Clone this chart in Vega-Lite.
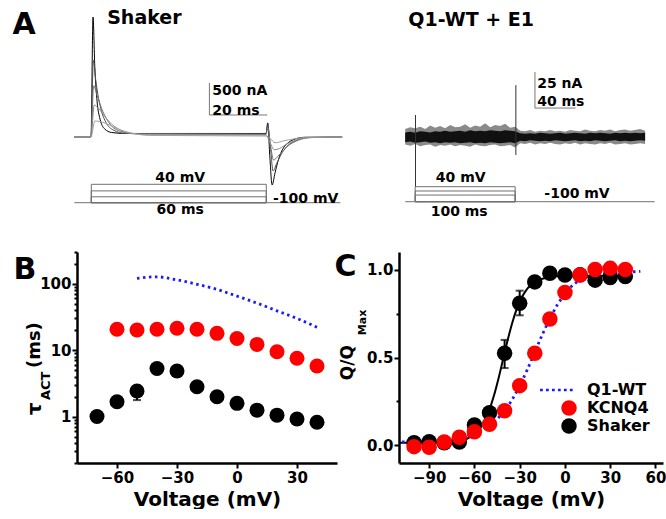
{
"$schema": "https://vega.github.io/schema/vega-lite/v6.json",
"autosize": {"type": "pad"},
"padding": {"left": 12, "top": 0, "right": 0, "bottom": 0},
"background": "white",
"config": {
  "view": {"stroke": null},
  "font": "DejaVu Sans",
  "text": {"font": "DejaVu Sans", "fontWeight": "bold", "color": "#000"},
  "axis": {"labelFont": "DejaVu Sans", "labelFontWeight": "bold", "labelFontSize": 15, "labelColor": "#000",
           "titleFont": "DejaVu Sans", "titleFontWeight": "bold", "titleFontSize": 20, "titleColor": "#000",
           "domainColor": "#000", "domainWidth": 2.5, "tickColor": "#000", "tickWidth": 2, "grid": false, "labelFlush": false}
},
"datasets": {
  "shakerTraces": [
    {"trace":"e","t":-5.8,"nA":0},{"trace":"e","t":-0.1,"nA":0},{"trace":"e","t":0.6,"nA":1875},{"trace":"e","t":1.2,"nA":1100},{"trace":"e","t":2,"nA":550},{"trace":"e","t":3,"nA":280},{"trace":"e","t":4.5,"nA":130},{"trace":"e","t":7,"nA":70},{"trace":"e","t":12,"nA":55},{"trace":"e","t":59.9,"nA":55},{"trace":"e","t":60.5,"nA":220},{"trace":"e","t":61.2,"nA":-300},{"trace":"e","t":62,"nA":-750},{"trace":"e","t":63,"nA":-560},{"trace":"e","t":64,"nA":-380},{"trace":"e","t":65.5,"nA":-200},{"trace":"e","t":67.5,"nA":-90},{"trace":"e","t":70,"nA":-30},{"trace":"e","t":73,"nA":-5},{"trace":"e","t":86,"nA":0},
    {"trace":"d","t":-5.8,"nA":0},{"trace":"d","t":-0.1,"nA":0},{"trace":"d","t":0.7,"nA":1200},{"trace":"d","t":1.5,"nA":900},{"trace":"d","t":2.5,"nA":600},{"trace":"d","t":3.5,"nA":400},{"trace":"d","t":5,"nA":230},{"trace":"d","t":7.5,"nA":110},{"trace":"d","t":12,"nA":55},{"trace":"d","t":59.9,"nA":50},{"trace":"d","t":60.5,"nA":180},{"trace":"d","t":61.5,"nA":-200},{"trace":"d","t":62.3,"nA":-530},{"trace":"d","t":63.5,"nA":-420},{"trace":"d","t":65,"nA":-280},{"trace":"d","t":67,"nA":-150},{"trace":"d","t":70,"nA":-60},{"trace":"d","t":74,"nA":-10},{"trace":"d","t":86,"nA":0},
    {"trace":"c","t":-5.8,"nA":0},{"trace":"c","t":-0.1,"nA":0},{"trace":"c","t":0.8,"nA":800},{"trace":"c","t":2,"nA":650},{"trace":"c","t":3.5,"nA":450},{"trace":"c","t":5,"nA":300},{"trace":"c","t":7,"nA":170},{"trace":"c","t":10,"nA":90},{"trace":"c","t":15,"nA":50},{"trace":"c","t":59.9,"nA":40},{"trace":"c","t":60.5,"nA":150},{"trace":"c","t":61.5,"nA":-150},{"trace":"c","t":62.5,"nA":-360},{"trace":"c","t":64,"nA":-300},{"trace":"c","t":66,"nA":-200},{"trace":"c","t":68,"nA":-120},{"trace":"c","t":71,"nA":-50},{"trace":"c","t":75,"nA":-10},{"trace":"c","t":86,"nA":0},
    {"trace":"b","t":-5.8,"nA":0},{"trace":"b","t":-0.1,"nA":0},{"trace":"b","t":1,"nA":500},{"trace":"b","t":3,"nA":420},{"trace":"b","t":5,"nA":300},{"trace":"b","t":7,"nA":200},{"trace":"b","t":10,"nA":110},{"trace":"b","t":14,"nA":55},{"trace":"b","t":20,"nA":35},{"trace":"b","t":59.9,"nA":30},{"trace":"b","t":61,"nA":-60},{"trace":"b","t":62.8,"nA":-200},{"trace":"b","t":64.5,"nA":-180},{"trace":"b","t":67,"nA":-110},{"trace":"b","t":70,"nA":-50},{"trace":"b","t":74,"nA":-10},{"trace":"b","t":86,"nA":0},
    {"trace":"a","t":-5.8,"nA":0},{"trace":"a","t":-0.1,"nA":0},{"trace":"a","t":1.2,"nA":250},{"trace":"a","t":4,"nA":230},{"trace":"a","t":7,"nA":170},{"trace":"a","t":10,"nA":110},{"trace":"a","t":14,"nA":60},{"trace":"a","t":20,"nA":25},{"trace":"a","t":59.9,"nA":15},{"trace":"a","t":61.5,"nA":-30},{"trace":"a","t":63,"nA":-90},{"trace":"a","t":66,"nA":-60},{"trace":"a","t":70,"nA":-25},{"trace":"a","t":75,"nA":0},{"trace":"a","t":86,"nA":0}
  ],
  "shakerProt": [{"t0":0,"t1":60,"v0":-100,"v1":40},{"t0":0,"t1":60,"v0":-100,"v1":-10},{"t0":0,"t1":60,"v0":-100,"v1":-55}],
  "q1Prot": [{"t0":0,"t1":100,"v0":-100,"v1":40},{"t0":0,"t1":100,"v0":-100,"v1":0},{"t0":0,"t1":100,"v0":-100,"v1":-38}],
  "q1Noise": [
    {"t":-10,"olo":-5.2,"ohi":5.6,"ilo":-3.6,"ihi":3.2},{"t":-5,"olo":-6,"ohi":6.8,"ilo":-3.2,"ihi":3.6},{"t":0,"olo":-4.8,"ohi":6,"ilo":-4,"ihi":2.9},{"t":5,"olo":-6.4,"ohi":7.2,"ilo":-3.6,"ihi":4},{"t":10,"olo":-5.6,"ohi":5.6,"ilo":-3.2,"ihi":3.6},{"t":15,"olo":-5.2,"ohi":8,"ilo":-4,"ihi":3.2},{"t":20,"olo":-6.8,"ohi":6.4,"ilo":-3.6,"ihi":4},{"t":25,"olo":-5.6,"ohi":7.6,"ilo":-4.3,"ihi":3.6},{"t":30,"olo":-6,"ohi":6,"ilo":-3.6,"ihi":4.3},{"t":35,"olo":-5.2,"ohi":8.4,"ilo":-4,"ihi":3.6},{"t":40,"olo":-6.4,"ohi":6.8,"ilo":-3.6,"ihi":4},{"t":45,"olo":-5.6,"ohi":7.2,"ilo":-4.3,"ihi":4.3},{"t":50,"olo":-6,"ohi":8.8,"ilo":-4,"ihi":3.6},{"t":55,"olo":-6.8,"ohi":6.4,"ilo":-3.6,"ihi":4.7},{"t":60,"olo":-5.2,"ohi":8,"ilo":-4.3,"ihi":4},{"t":65,"olo":-6,"ohi":7.2,"ilo":-4,"ihi":4.3},{"t":70,"olo":-6.4,"ohi":9.6,"ilo":-4.3,"ihi":4},{"t":75,"olo":-5.6,"ohi":6.8,"ilo":-3.6,"ihi":4.7},{"t":80,"olo":-5.2,"ohi":8.4,"ilo":-4,"ihi":4.3},{"t":85,"olo":-6.4,"ohi":7.6,"ilo":-4.3,"ihi":4},{"t":90,"olo":-6,"ohi":9.2,"ilo":-4,"ihi":4.7},{"t":95,"olo":-5.6,"ohi":6.4,"ilo":-3.6,"ihi":4.3},{"t":100,"olo":-7.2,"ohi":7.2,"ilo":-4.3,"ihi":4},
    {"t":105,"olo":-4.4,"ohi":4.4,"ilo":-2.6,"ihi":2.6},{"t":110,"olo":-4.8,"ohi":4,"ilo":-3,"ihi":2.3},{"t":115,"olo":-4,"ohi":4.8,"ilo":-2.3,"ihi":2.6},{"t":120,"olo":-5.2,"ohi":3.6,"ilo":-2.6,"ihi":2.3},{"t":125,"olo":-4.4,"ohi":4.4,"ilo":-3,"ihi":3},{"t":130,"olo":-4.8,"ohi":4,"ilo":-2.6,"ihi":2.6},{"t":135,"olo":-4,"ohi":4.8,"ilo":-3,"ihi":2.3},{"t":140,"olo":-4.8,"ohi":4,"ilo":-2.3,"ihi":2.6},{"t":145,"olo":-5.2,"ohi":4.4,"ilo":-2.6,"ihi":3},{"t":150,"olo":-4.4,"ohi":3.6,"ilo":-3,"ihi":2.3},{"t":155,"olo":-4.8,"ohi":4.8,"ilo":-2.6,"ihi":2.6},{"t":160,"olo":-4,"ohi":4.4,"ilo":-2.3,"ihi":3},{"t":165,"olo":-5.2,"ohi":4,"ilo":-3,"ihi":2.6},{"t":170,"olo":-4.4,"ohi":5.2,"ilo":-2.6,"ihi":2.3},{"t":175,"olo":-4.8,"ohi":4.4,"ilo":-3,"ihi":3},{"t":180,"olo":-5.2,"ohi":4,"ilo":-2.3,"ihi":2.6},{"t":185,"olo":-4.4,"ohi":4.8,"ilo":-2.6,"ihi":3},{"t":190,"olo":-4.8,"ohi":4.4,"ilo":-3,"ihi":2.6},{"t":195,"olo":-4,"ohi":5.2,"ilo":-2.6,"ihi":2.3},{"t":200,"olo":-5.2,"ohi":4,"ilo":-2.3,"ihi":3},{"t":205,"olo":-4.8,"ohi":4.8,"ilo":-3,"ihi":2.6},{"t":210,"olo":-4.4,"ohi":5.2,"ilo":-2.6,"ihi":3},{"t":215,"olo":-5.2,"ohi":4.4,"ilo":-3,"ihi":2.6},{"t":220,"olo":-4.8,"ohi":4.8,"ilo":-2.6,"ihi":3},{"t":225,"olo":-4.4,"ohi":5.6,"ilo":-2.3,"ihi":2.6},{"t":230,"olo":-4.8,"ohi":4.4,"ilo":-2.6,"ihi":3}
  ],
  "q1Spikes": [{"t":0.3,"lo":-34.7,"hi":15.3},{"t":100.7,"lo":-12.5,"hi":36}],
  "tauPts": [
    {"series":"Shaker","V":-70,"tau":1.0},{"series":"Shaker","V":-60,"tau":1.67},{"series":"Shaker","V":-50,"tau":2.42},{"series":"Shaker","V":-40,"tau":5.3},{"series":"Shaker","V":-30,"tau":4.84},{"series":"Shaker","V":-20,"tau":2.81},{"series":"Shaker","V":-10,"tau":1.99},{"series":"Shaker","V":0,"tau":1.58},{"series":"Shaker","V":10,"tau":1.25},{"series":"Shaker","V":20,"tau":1.05},{"series":"Shaker","V":30,"tau":0.92},{"series":"Shaker","V":40,"tau":0.82},
    {"series":"KCNQ4","V":-60,"tau":20.6},{"series":"KCNQ4","V":-50,"tau":20.1},{"series":"KCNQ4","V":-40,"tau":20.6},{"series":"KCNQ4","V":-30,"tau":21.3},{"series":"KCNQ4","V":-20,"tau":20.6},{"series":"KCNQ4","V":-10,"tau":17.9},{"series":"KCNQ4","V":0,"tau":15.0},{"series":"KCNQ4","V":10,"tau":12.2},{"series":"KCNQ4","V":20,"tau":9.46},{"series":"KCNQ4","V":30,"tau":7.53},{"series":"KCNQ4","V":40,"tau":5.76}
  ],
  "tauQ1": [{"V":-50,"tau":120},{"V":-40,"tau":127},{"V":-30,"tau":114},{"V":-20,"tau":98},{"V":-10,"tau":82},{"V":0,"tau":65},{"V":10,"tau":51},{"V":20,"tau":39},{"V":30,"tau":30},{"V":40,"tau":22}],
  "tauErr": [{"V":-50,"lo":1.77,"hi":2.9}],
  "qvPts": [
    {"series":"Shaker","V":-100,"q":0.015},{"series":"Shaker","V":-90,"q":0.021},{"series":"Shaker","V":-80,"q":0.015},{"series":"Shaker","V":-70,"q":0.02},{"series":"Shaker","V":-60,"q":0.116},{"series":"Shaker","V":-50,"q":0.186},{"series":"Shaker","V":-40,"q":0.524},{"series":"Shaker","V":-30,"q":0.808},{"series":"Shaker","V":-20,"q":0.93},{"series":"Shaker","V":-10,"q":0.979},{"series":"Shaker","V":0,"q":0.969},{"series":"Shaker","V":10,"q":0.97},{"series":"Shaker","V":20,"q":0.94},{"series":"Shaker","V":30,"q":0.955},{"series":"Shaker","V":40,"q":0.96},
    {"series":"KCNQ4","V":-100,"q":-0.007},{"series":"KCNQ4","V":-90,"q":-0.01},{"series":"KCNQ4","V":-80,"q":0.02},{"series":"KCNQ4","V":-70,"q":0.046},{"series":"KCNQ4","V":-60,"q":0.078},{"series":"KCNQ4","V":-50,"q":0.12},{"series":"KCNQ4","V":-40,"q":0.197},{"series":"KCNQ4","V":-30,"q":0.34},{"series":"KCNQ4","V":-20,"q":0.524},{"series":"KCNQ4","V":-10,"q":0.719},{"series":"KCNQ4","V":0,"q":0.87},{"series":"KCNQ4","V":10,"q":0.969},{"series":"KCNQ4","V":20,"q":1.0},{"series":"KCNQ4","V":30,"q":1.007},{"series":"KCNQ4","V":40,"q":1.0}
  ],
  "qvFit": [{"V":-110,"q":0.015},{"V":-100,"q":0.015},{"V":-90,"q":0.016},{"V":-80,"q":0.017},{"V":-70,"q":0.026},{"V":-65,"q":0.038},{"V":-60,"q":0.064},{"V":-55,"q":0.114},{"V":-50,"q":0.205},{"V":-47,"q":0.285},{"V":-44,"q":0.382},{"V":-41,"q":0.49},{"V":-38,"q":0.598},{"V":-35,"q":0.695},{"V":-32,"q":0.775},{"V":-29,"q":0.835},{"V":-26,"q":0.879},{"V":-23,"q":0.909},{"V":-20,"q":0.929},{"V":-15,"q":0.948},{"V":-10,"q":0.957},{"V":0,"q":0.963},{"V":20,"q":0.965},{"V":40,"q":0.965}],
  "qvQ1": [{"V":-108,"q":0.02},{"V":-90,"q":0.02},{"V":-80,"q":0.025},{"V":-70,"q":0.04},{"V":-60,"q":0.07},{"V":-55,"q":0.09},{"V":-50,"q":0.12},{"V":-45,"q":0.15},{"V":-40,"q":0.2},{"V":-35,"q":0.26},{"V":-30,"q":0.34},{"V":-25,"q":0.43},{"V":-20,"q":0.53},{"V":-15,"q":0.63},{"V":-10,"q":0.72},{"V":-5,"q":0.8},{"V":0,"q":0.86},{"V":5,"q":0.91},{"V":10,"q":0.94},{"V":15,"q":0.96},{"V":20,"q":0.97},{"V":30,"q":0.98},{"V":40,"q":0.985},{"V":50,"q":0.99}],
  "qvErr": [{"V":-40,"lo":0.44,"hi":0.6},{"V":-30,"lo":0.74,"hi":0.88},{"V":-20,"lo":0.91,"hi":0.95},{"V":20,"lo":0.92,"hi":0.97}]
},
"columns": 2,
"bounds": "flush",
"spacing": {"row": 32, "column": 62},
"resolve": {"scale": {"color": "independent", "shape": "independent", "strokeWidth": "independent"}, "legend": {"color": "independent", "shape": "independent"}},
"concat": [
  {
    "width": 260, "height": 220,
    "layer": [
      {"layer": [
        {"data": {"name": "shakerTraces"},
         "mark": {"type": "line", "interpolate": "monotone"},
         "encoding": {
           "x": {"field": "t", "type": "quantitative", "scale": {"domain": [-4.9, 84.24], "nice": false, "zero": false}, "axis": null},
           "y": {"field": "nA", "type": "quantitative", "scale": {"domain": [-1296.9, 2140.6], "nice": false, "zero": false}, "axis": null},
           "color": {"field": "trace", "type": "nominal", "scale": {"domain": ["a","b","c","d","e"], "range": ["#a0a0a0","#8a8a8a","#707070","#505050","#000000"]}, "legend": null},
           "strokeWidth": {"field": "trace", "type": "nominal", "scale": {"domain": ["a","b","c","d","e"], "range": [1, 1, 1, 1, 1.8]}, "legend": null}
         }},
        {"data": {"values": [{}]}, "mark": {"type": "rule", "color": "#777", "strokeWidth": 1},
         "encoding": {"x": {"datum": 40.5}, "y": {"datum": 344}, "y2": {"datum": 844}}},
        {"data": {"values": [{}]}, "mark": {"type": "rule", "color": "#777", "strokeWidth": 1},
         "encoding": {"x": {"datum": 40.5}, "x2": {"datum": 60.3}, "y": {"datum": 344}}},
        {"data": {"values": [{}]}, "mark": {"type": "text", "fontSize": 14, "align": "left", "baseline": "middle"},
         "encoding": {"x": {"datum": 41.5}, "y": {"datum": 711}, "text": {"value": "500 nA"}}},
        {"data": {"values": [{}]}, "mark": {"type": "text", "fontSize": 14, "align": "left", "baseline": "middle"},
         "encoding": {"x": {"datum": 41.5}, "y": {"datum": 414}, "text": {"value": "20 ms"}}},
        {"data": {"values": [{}]}, "mark": {"type": "text", "fontSize": 19, "align": "center", "baseline": "middle"},
         "encoding": {"x": {"datum": 18.2}, "y": {"datum": 1852}, "text": {"value": "Shaker"}}},
        {"data": {"values": [{}]}, "mark": {"type": "text", "fontSize": 30, "align": "center", "baseline": "middle"},
         "encoding": {"x": {"datum": -23}, "y": {"datum": 1750}, "text": {"value": "A"}}}
      ]},
      {"layer": [
        {"data": {"name": "shakerProt"},
         "mark": {"type": "rect", "filled": false, "color": "#707070", "strokeWidth": 1},
         "encoding": {
           "x": {"field": "t0", "type": "quantitative", "scale": {"domain": [-4.9, 84.24], "nice": false, "zero": false}, "axis": null},
           "x2": {"field": "t1"},
           "y": {"field": "v0", "type": "quantitative", "scale": {"domain": [-231.6, 1442.3], "nice": false, "zero": false}, "axis": null},
           "y2": {"field": "v1"}
         }},
        {"data": {"values": [{}]}, "mark": {"type": "rule", "color": "#707070", "strokeWidth": 1},
         "encoding": {"x": {"datum": -5.8}, "x2": {"datum": 85.4}, "y": {"datum": -100}}},
        {"data": {"values": [{}]}, "mark": {"type": "text", "fontSize": 14, "align": "center", "baseline": "middle"},
         "encoding": {"x": {"datum": 30.5}, "y": {"datum": 88}, "text": {"value": "40 mV"}}},
        {"data": {"values": [{}]}, "mark": {"type": "text", "fontSize": 14, "align": "center", "baseline": "middle"},
         "encoding": {"x": {"datum": 30.5}, "y": {"datum": -155}, "text": {"value": "60 ms"}}},
        {"data": {"values": [{}]}, "mark": {"type": "text", "fontSize": 14, "align": "center", "baseline": "middle"},
         "encoding": {"x": {"datum": 73.5}, "y": {"datum": -72}, "text": {"value": "-100 mV"}}}
      ]}
    ],
    "resolve": {"scale": {"y": "independent"}}
  },
  {
    "width": 264, "height": 220,
    "layer": [
      {"layer": [
        {"data": {"name": "q1Noise"},
         "mark": {"type": "area", "color": "#8a8a8a", "interpolate": "linear"},
         "encoding": {
           "x": {"field": "t", "type": "quantitative", "scale": {"domain": [-16.2, 247.9], "nice": false, "zero": false}, "axis": null},
           "y": {"field": "olo", "type": "quantitative", "scale": {"domain": [-57.6, 95.1], "nice": false, "zero": false}, "axis": null},
           "y2": {"field": "ohi"}
         }},
        {"data": {"name": "q1Noise"},
         "mark": {"type": "area", "color": "#111111", "interpolate": "linear"},
         "encoding": {
           "x": {"field": "t", "type": "quantitative"},
           "y": {"field": "ilo", "type": "quantitative"},
           "y2": {"field": "ihi"}
         }},
        {"data": {"name": "q1Spikes"},
         "mark": {"type": "rule", "color": "#333", "strokeWidth": 1},
         "encoding": {"x": {"field": "t", "type": "quantitative"}, "y": {"field": "lo", "type": "quantitative"}, "y2": {"field": "hi"}}},
        {"data": {"values": [{}]}, "mark": {"type": "rule", "color": "#777", "strokeWidth": 1},
         "encoding": {"x": {"datum": 119.8}, "y": {"datum": 20.1}, "y2": {"datum": 45.1}}},
        {"data": {"values": [{}]}, "mark": {"type": "rule", "color": "#777", "strokeWidth": 1},
         "encoding": {"x": {"datum": 119.8}, "x2": {"datum": 160.4}, "y": {"datum": 20.1}}},
        {"data": {"values": [{}]}, "mark": {"type": "text", "fontSize": 14, "align": "left", "baseline": "middle"},
         "encoding": {"x": {"datum": 122}, "y": {"datum": 36.8}, "text": {"value": "25 nA"}}},
        {"data": {"values": [{}]}, "mark": {"type": "text", "fontSize": 14, "align": "left", "baseline": "middle"},
         "encoding": {"x": {"datum": 122}, "y": {"datum": 24.3}, "text": {"value": "40 ms"}}},
        {"data": {"values": [{}]}, "mark": {"type": "text", "fontSize": 19, "align": "center", "baseline": "middle"},
         "encoding": {"x": {"datum": 56}, "y": {"datum": 81.2}, "text": {"value": "Q1-WT + E1"}}}
      ]},
      {"layer": [
        {"data": {"name": "q1Prot"},
         "mark": {"type": "rect", "filled": false, "color": "#707070", "strokeWidth": 1},
         "encoding": {
           "x": {"field": "t0", "type": "quantitative"},
           "x2": {"field": "t1"},
           "y": {"field": "v0", "type": "quantitative", "scale": {"domain": [-270.7, 1782], "nice": false, "zero": false}, "axis": null},
           "y2": {"field": "v1"}
         }},
        {"data": {"values": [{}]}, "mark": {"type": "rule", "color": "#707070", "strokeWidth": 1},
         "encoding": {"x": {"datum": -10}, "x2": {"datum": 239.6}, "y": {"datum": -100}}},
        {"data": {"values": [{}]}, "mark": {"type": "text", "fontSize": 14, "align": "center", "baseline": "middle"},
         "encoding": {"x": {"datum": 45.5}, "y": {"datum": 121}, "text": {"value": "40 mV"}}},
        {"data": {"values": [{}]}, "mark": {"type": "text", "fontSize": 14, "align": "center", "baseline": "middle"},
         "encoding": {"x": {"datum": 44}, "y": {"datum": -196}, "text": {"value": "100 ms"}}},
        {"data": {"values": [{}]}, "mark": {"type": "text", "fontSize": 14, "align": "center", "baseline": "middle"},
         "encoding": {"x": {"datum": 161.9}, "y": {"datum": -28}, "text": {"value": "-100 mV"}}}
      ]}
    ],
    "resolve": {"scale": {"y": "independent"}}
  },
  {
    "width": 260, "height": 211,
    "layer": [
      {"data": {"name": "tauQ1"},
       "mark": {"type": "line", "color": "#1a1aff", "strokeWidth": 2.8, "strokeDash": [2.5, 3.5], "interpolate": "monotone"},
       "encoding": {
         "x": {"field": "V", "type": "quantitative", "scale": {"domain": [-80, 50], "nice": false, "zero": false},
               "axis": {"title": "Voltage (mV)", "values": [-60, -30, 0, 30], "tickSize": 5, "labelPadding": 2, "titlePadding": 4}},
         "y": {"field": "tau", "type": "quantitative", "scale": {"type": "log", "domain": [0.2, 300], "nice": false},
               "axis": {"title": null, "values": [0.2,0.3,0.4,0.5,0.6,0.7,0.8,0.9,1,2,3,4,5,6,7,8,9,10,20,30,40,50,60,70,80,90,100,200,300],
                        "labelExpr": "datum.value == 1 ? '1' : datum.value == 10 ? '10' : datum.value == 100 ? '100' : ''",
                        "tickSize": {"condition": {"test": "datum.value == 1 || datum.value == 10 || datum.value == 100", "value": 5}, "value": 3},
                        "labelPadding": 1, "labelOverlap": false}}
       }},
      {"data": {"name": "tauErr"},
       "mark": {"type": "errorbar", "ticks": true, "color": "black", "thickness": 2, "size": 8},
       "encoding": {"x": {"field": "V", "type": "quantitative"}, "y": {"field": "lo", "type": "quantitative"}, "y2": {"field": "hi"}}},
      {"data": {"name": "tauPts"},
       "mark": {"type": "point", "filled": true, "opacity": 1, "size": 225, "strokeWidth": 0},
       "encoding": {
         "x": {"field": "V", "type": "quantitative"},
         "y": {"field": "tau", "type": "quantitative"},
         "color": {"field": "series", "type": "nominal", "scale": {"domain": ["KCNQ4", "Shaker"], "range": ["#ff0000", "#000000"]}, "legend": null}
       }},
      {"data": {"values": [{}]}, "mark": {"type": "text", "fontSize": 30, "align": "center", "baseline": "middle"},
       "encoding": {"x": {"datum": -106}, "y": {"datum": 161}, "text": {"value": "B"}}},
      {"data": {"values": [{}]}, "mark": {"type": "text", "fontSize": 18, "align": "center", "baseline": "middle", "angle": 270},
       "encoding": {"x": {"datum": -101}, "y": {"datum": 11.9}, "text": {"value": "(ms)"}}},
      {"data": {"values": [{}]}, "mark": {"type": "text", "fontSize": 13, "align": "center", "baseline": "middle", "angle": 270},
       "encoding": {"x": {"datum": -95.5}, "y": {"datum": 2.9}, "text": {"value": "ACT"}}},
      {"data": {"values": [{}]}, "mark": {"type": "text", "fontSize": 20, "align": "center", "baseline": "middle", "angle": 270},
       "encoding": {"x": {"datum": -101}, "y": {"datum": 1.3}, "text": {"value": "τ"}}}
    ]
  },
  {
    "width": 264, "height": 211,
    "layer": [
      {"data": {"name": "qvFit"},
       "mark": {"type": "line", "color": "#000000", "strokeWidth": 2, "interpolate": "monotone"},
       "encoding": {
         "x": {"field": "V", "type": "quantitative", "scale": {"domain": [-110, 65], "nice": false, "zero": false},
               "axis": {"title": "Voltage (mV)", "values": [-90, -60, -30, 0, 30, 60], "tickSize": 5, "labelPadding": 2, "titlePadding": 4}},
         "y": {"field": "q", "type": "quantitative", "scale": {"domain": [-0.1, 1.1], "nice": false, "zero": false},
               "axis": {"title": null, "values": [0, 0.25, 0.5, 0.75, 1],
                        "labelExpr": "datum.value == 0 ? '0.0' : datum.value == 0.5 ? '0.5' : datum.value == 1 ? '1.0' : ''",
                        "tickSize": {"condition": {"test": "datum.value == 0 || datum.value == 0.5 || datum.value == 1", "value": 5}, "value": 3},
                        "labelPadding": 1, "labelOverlap": false}}
       }},
      {"data": {"name": "qvQ1"},
       "mark": {"type": "line", "color": "#1a1aff", "strokeWidth": 2.8, "strokeDash": [2.5, 3.5], "interpolate": "monotone"},
       "encoding": {"x": {"field": "V", "type": "quantitative"}, "y": {"field": "q", "type": "quantitative"}}},
      {"data": {"name": "qvErr"},
       "mark": {"type": "errorbar", "ticks": true, "color": "black", "thickness": 2, "size": 8},
       "encoding": {"x": {"field": "V", "type": "quantitative"}, "y": {"field": "lo", "type": "quantitative"}, "y2": {"field": "hi"}}},
      {"data": {"name": "qvPts"},
       "mark": {"type": "point", "filled": true, "opacity": 1, "size": 240, "strokeWidth": 0},
       "encoding": {
         "x": {"field": "V", "type": "quantitative"},
         "y": {"field": "q", "type": "quantitative"},
         "color": {"field": "series", "type": "nominal", "scale": {"domain": ["Q1-WT", "KCNQ4", "Shaker"], "range": ["#1a1aff", "#ff0000", "#000000"]},
                   "legend": {"title": null, "orient": "none", "legendX": 162, "legendY": 130, "labelFont": "DejaVu Sans", "labelFontWeight": "bold", "labelFontSize": 16, "labelColor": "#000", "symbolSize": 240, "symbolStrokeWidth": 0, "rowPadding": 2, "labelOffset": 10, "padding": 0, "symbolOpacity": 1}},
         "shape": {"field": "series", "type": "nominal", "scale": {"domain": ["Q1-WT", "KCNQ4", "Shaker"], "range": ["M-3.74,-0.17h0.36v0.34h-0.36Z M-2.97,-0.17h0.36v0.34h-0.36Z M-2.2,-0.17h0.36v0.34h-0.36Z M-1.43,-0.17h0.36v0.34h-0.36Z M-0.66,-0.17h0.36v0.34h-0.36Z M0.11,-0.17h0.36v0.34h-0.36Z", "circle", "circle"]},
                   "legend": {"title": null, "orient": "none", "legendX": 162, "legendY": 130, "labelFont": "DejaVu Sans", "labelFontWeight": "bold", "labelFontSize": 16, "labelColor": "#000", "symbolSize": 240, "symbolStrokeWidth": 0, "rowPadding": 2, "labelOffset": 10, "padding": 0, "symbolOpacity": 1}}
       }},
      {"data": {"values": [{}]}, "mark": {"type": "text", "fontSize": 30, "align": "center", "baseline": "middle"},
       "encoding": {"x": {"datum": -145.4}, "y": {"datum": 1.012}, "text": {"value": "C"}}},
      {"data": {"values": [{}]}, "mark": {"type": "text", "fontSize": 17, "align": "center", "baseline": "middle", "angle": 270},
       "encoding": {"x": {"datum": -144}, "y": {"datum": 0.471}, "text": {"value": "Q/Q"}}},
      {"data": {"values": [{}]}, "mark": {"type": "text", "fontSize": 11, "align": "center", "baseline": "middle", "angle": 270},
       "encoding": {"x": {"datum": -133.7}, "y": {"datum": 0.699}, "text": {"value": "Max"}}}
    ]
  }
]
}
